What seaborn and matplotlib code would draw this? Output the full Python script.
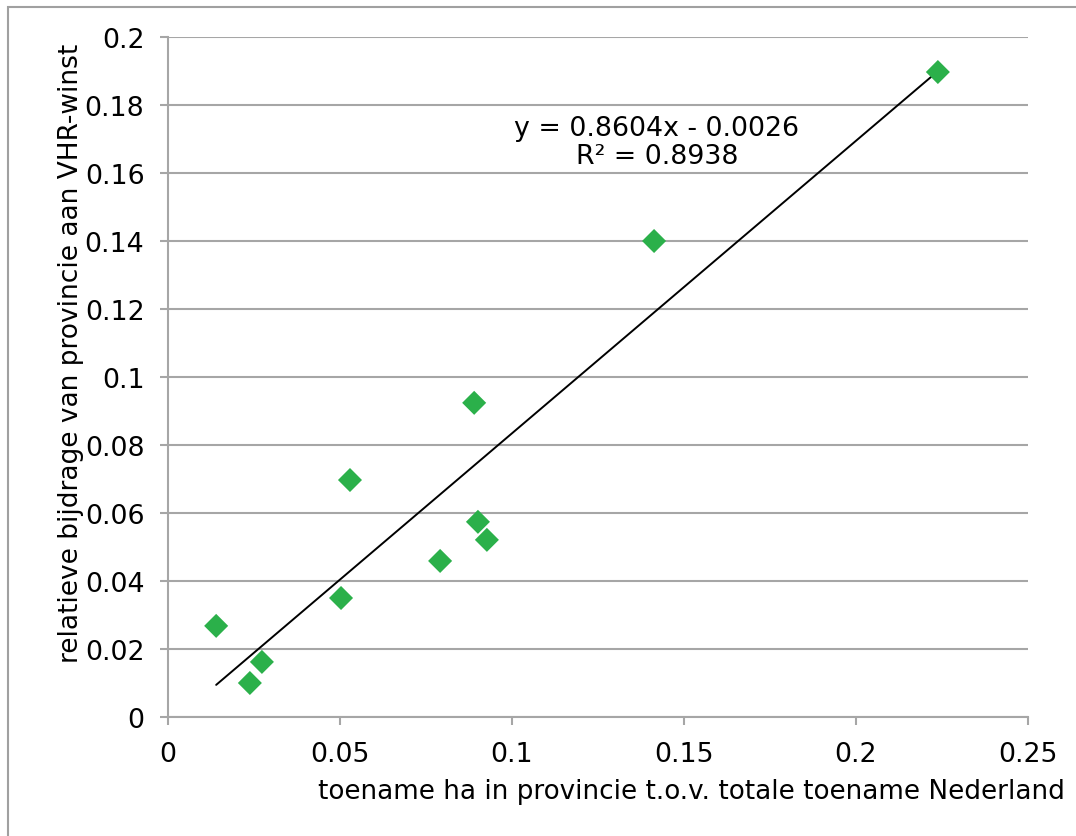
import numpy as np
import pandas as pd
import matplotlib
matplotlib.use("Agg")
import matplotlib.pyplot as plt
import seaborn as sns
from matplotlib.patches import Rectangle

# toename ha in provincie t.o.v. totale toename Nederland
toename = [0.0140, 0.0238, 0.0273, 0.0503, 0.0529, 0.0791,
           0.0890, 0.0901, 0.0927, 0.1413, 0.2238]
# relatieve bijdrage van provincie aan VHR-winst
bijdrage = [0.0268, 0.0100, 0.0162, 0.0350, 0.0697, 0.0459,
            0.0924, 0.0574, 0.0521, 0.1400, 0.1897]

# lineaire trendlijn (zoals in de grafiek vermeld)
helling = 0.8604
intercept = -0.0026
r2 = 0.8938

x_ticks = [0, 0.05, 0.1, 0.15, 0.2, 0.25]
x_ticklabels = ["0", "0.05", "0.1", "0.15", "0.2", "0.25"]
y_ticks = [0, 0.02, 0.04, 0.06, 0.08, 0.1, 0.12, 0.14, 0.16, 0.18, 0.2]
y_ticklabels = ["0", "0.02", "0.04", "0.06", "0.08", "0.1", "0.12",
                "0.14", "0.16", "0.18", "0.2"]

sns.set_theme(style="white")
plt.rcParams['font.family'] = 'DejaVu Sans'
plt.rcParams['text.color'] = 'black'
plt.rcParams['axes.labelcolor'] = 'black'
plt.rcParams['xtick.labelcolor'] = 'black'
plt.rcParams['ytick.labelcolor'] = 'black'

fs = 19.3

df = pd.DataFrame({"toename": toename, "bijdrage": bijdrage})
xs = np.array([min(toename), max(toename)])
trend = pd.DataFrame({"x": xs, "y": helling * xs + intercept})

fig = plt.figure(figsize=(10.76, 8.37), dpi=100)
ax = fig.add_axes([168 / 1076, 1 - 718 / 837, 860 / 1076, 680 / 837])

grijs = "#a6a6a6"
ax.set_xlim(0, 0.25)
ax.set_ylim(0, 0.2)
ax.set_yticks(y_ticks)
ax.set_yticklabels(y_ticklabels)
ax.set_xticks(x_ticks)
ax.set_xticklabels(x_ticklabels)
ax.grid(axis="y", color=grijs, linewidth=1.5)
ax.set_axisbelow(True)

sns.lineplot(data=trend, x="x", y="y", color="black", linewidth=1.4, ax=ax,
             zorder=2)
sns.scatterplot(data=df, x="toename", y="bijdrage", marker="D", s=150,
                color="#2bb04a", edgecolor="none", ax=ax, zorder=3)

for side in ["top", "right"]:
    ax.spines[side].set_visible(False)
for side in ["left", "bottom"]:
    ax.spines[side].set_color(grijs)
    ax.spines[side].set_linewidth(1.5)

ax.tick_params(axis="both", which="major", direction="out", length=6,
               width=1.5, color=grijs, labelsize=fs, pad=11,
               left=True, bottom=True)

ax.set_ylabel("relatieve bijdrage van provincie aan VHR-winst", fontsize=19)
ax.yaxis.set_label_coords(-0.098, 0.536)
ax.set_xlabel("toename ha in provincie t.o.v. totale toename Nederland",
              fontsize=18.9, ha="left")
ax.xaxis.set_label_coords((318 - 168) / 860, -0.09)

ax.text(0.5686, 0.8456,
        f"y = {helling}x - {abs(intercept)}\nR² = {r2}",
        transform=ax.transAxes, ha="center", va="center",
        multialignment="center", fontsize=fs, linespacing=1.1)

# rand rond de grafiek
fig.patches.append(Rectangle((8, -20), 1200, 837 - 8 + 20,
                             transform=None, fill=False,
                             edgecolor="#a0a0a0", linewidth=1.5))

fig.savefig("out.png", dpi=100)
